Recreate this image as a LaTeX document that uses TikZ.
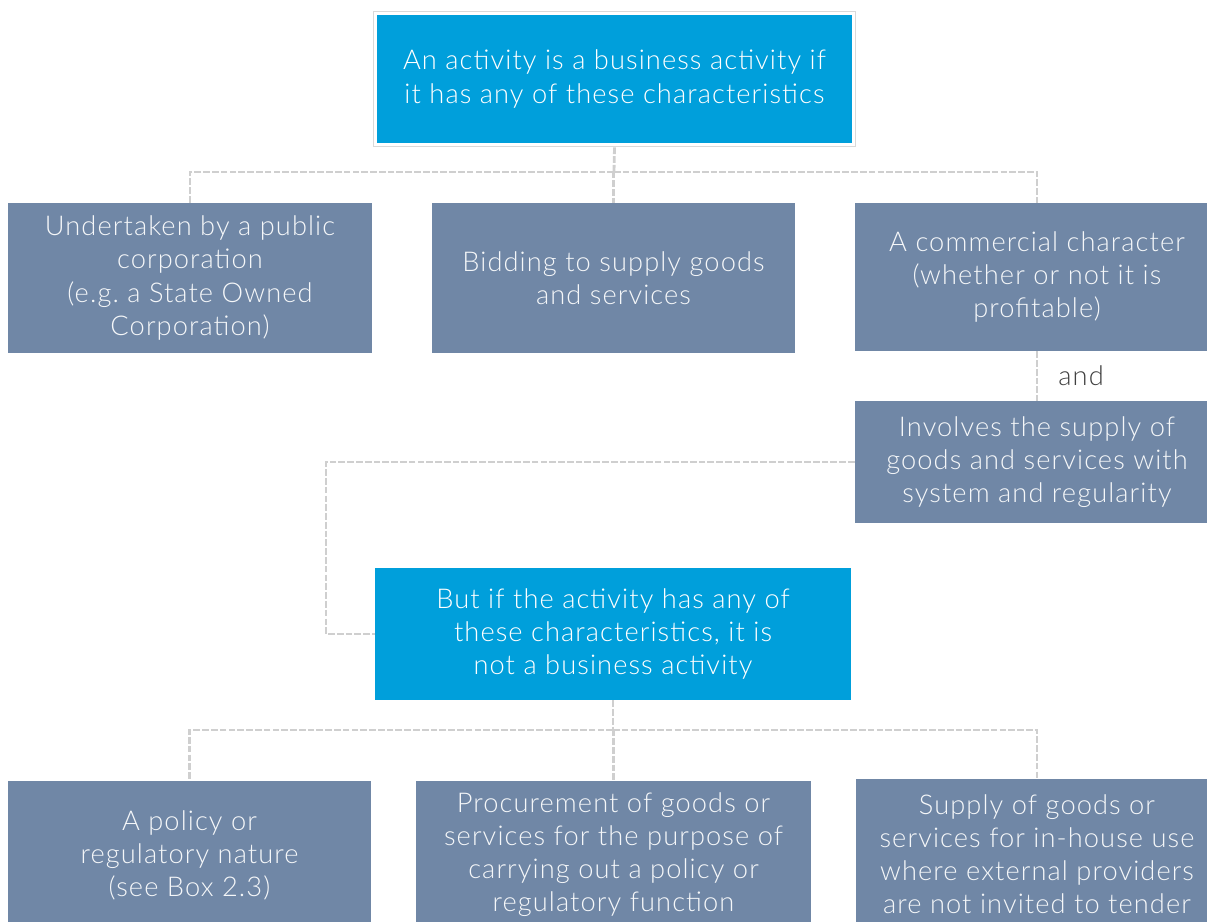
\documentclass[tikz,border=0pt]{standalone}
\usepackage{fontspec}
\setmainfont{Lato}[UprightFont=* Light, LetterSpace=4]
\usepackage{tikz}
\usetikzlibrary{calc, fit}
\definecolor{headblue}{RGB}{0,159,219}
\definecolor{itemslate}{RGB}{112,135,166}
\definecolor{andgray}{RGB}{64,64,64}

\begin{document}
\begin{tikzpicture}[x=0.02cm, y=-0.02cm,
    headbox/.style={fill=headblue, text=white, align=center, inner sep=0pt,
      font=\fontsize{15.5}{18.8}\selectfont},
    itembox/.style={fill=itemslate, text=white!93!itemslate, align=center, inner sep=0pt,
      font=\fontsize{15.5}{18.8}\selectfont},
    link/.style={draw=gray!38, line width=1.6pt, dash pattern=on 3.8pt off 1.2pt},
    andtext/.style={right, xshift=0.4cm, inner sep=0pt, text=andgray,
      font=\fontsize{15.5}{18.8}\selectfont}]
        \useasboundingbox (0,0) rectangle (1207,922);
        \clip (0,0) rectangle (1207,922);
        % first question
        \node[headbox, minimum width=9.5cm, minimum height=2.56cm] (headtop) at (614.5,79)
            {An activity is a business activity if\\it has any of these characteristics};
        \node[draw=gray!30, line width=0.6pt, fit=(headtop), inner sep=0.07cm] (headframe) {};
        \node[itembox, minimum width=7.28cm, minimum height=3cm] (pubcorp) at (190,278)
            {Undertaken by a public\\corporation\\(e.g.\ a State Owned\\Corporation)};
        \node[itembox, minimum width=7.26cm, minimum height=3cm] (bidding) at (613.5,278)
            {Bidding to supply goods\\and services};
        \node[itembox, minimum width=7.28cm, minimum height=2.96cm] (commchar) at (1037,277)
            {A commercial character\\(whether or not it is\\profitable)};
        \node[itembox, minimum width=7.28cm, minimum height=2.44cm] (supply) at (1037,462)
            {Involves the supply of\\goods and services with\\system and regularity};
        % second question
        \node[headbox, minimum width=9.52cm, minimum height=2.64cm] (notbiz) at (613,634)
            {But if the activity has any of\\these characteristics, it is\\not a business activity};
        \node[itembox, minimum width=7.26cm, minimum height=2.96cm] (policy) at (189.5,855)
            {A policy or\\regulatory nature\\(see Box 2.3)};
        \node[itembox, minimum width=7.9cm, minimum height=2.96cm] (procure) at (613.5,855)
            {Procurement of goods or\\services for the purpose of\\carrying out a policy or\\regulatory function};
        \node[itembox, minimum width=7.24cm, minimum height=3cm] (inhouse) at (1037,854)
            {Supply of goods or\\services for in-house use\\where external providers\\are not invited to tender};
        % connectors
        \coordinate (busone) at (614,172);
        \coordinate (elbow) at (326,462);
        \coordinate (bustwo) at (613,730);
        \draw[link] (headframe.south) -- (busone);
        \draw[link] (busone) -| (pubcorp.north);
        \draw[link] (busone) -| (bidding.north);
        \draw[link] (busone) -| (commchar.north);
        \draw[link] (commchar.south) -- node[andtext] (andlbl) {and} (supply.north);
        \draw[link] (supply.west) -- (elbow) |- (notbiz.west);
        \draw[link] (notbiz.south) -- (bustwo);
        \draw[link] (bustwo) -| (policy.north);
        \draw[link] (bustwo) -| (procure.north);
        \draw[link] (bustwo) -| (inhouse.north);
\end{tikzpicture}
\end{document}
